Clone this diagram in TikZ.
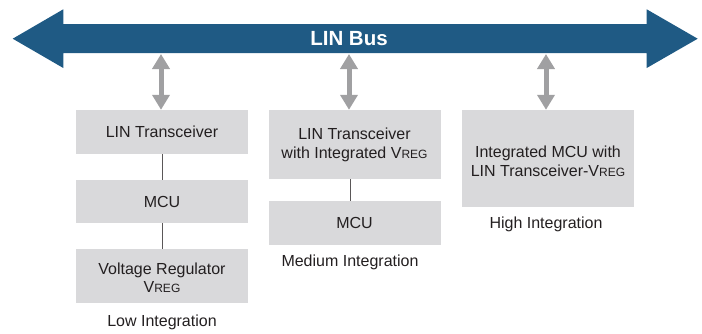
\documentclass[tikz,border=0pt]{standalone}
\usepackage{fontspec}
\setmainfont{Liberation Sans}
\usetikzlibrary{arrows.meta}
\definecolor{busblue}{RGB}{31,90,132}
\definecolor{boxgray}{RGB}{217,217,219}
\definecolor{arrgray}{RGB}{160,160,162}
\definecolor{txt}{RGB}{35,31,32}
\newcommand{\vreg}{V{\fontsize{12}{13}\selectfont REG}}
\tikzset{
  blk/.style={fill=boxgray, draw=none, minimum width=172pt, inner sep=0pt, align=center, text=txt, font=\fontsize{16}{19}\selectfont},
  grouplabel/.style={text=txt, font=\fontsize{16}{18}\selectfont, inner sep=0pt},
  link/.style={draw=txt!75, line width=0.9pt},
  vlink/.style={draw=arrgray, line width=5pt, {Triangle[width=17pt,length=15pt]}-{Triangle[width=17pt,length=15pt]}, shorten <=0pt, shorten >=0pt}
}
\begin{document}
\begin{tikzpicture}[x=1pt,y=1pt]
\useasboundingbox (0,0) rectangle (702,-333);
% bus
\fill[busblue] (12.7,-38.7) -- (63.3,-9.3) -- (63.3,-24) -- (646.7,-24) -- (646.7,-9.3) -- (697.7,-38.7) -- (646.7,-68) -- (646.7,-53) -- (63.3,-53) -- (63.3,-68) -- cycle;
\node[text=white, font=\bfseries\fontsize{20.5}{22}\selectfont, inner sep=0pt] (bus) at (349,-38.5) {LIN Bus};
% low integration
\node[blk, minimum height=44pt] (l1) at (162,-132) {LIN Transceiver};
\node[blk, minimum height=43pt] (l2) at (162,-201.5) {MCU};
\node[blk, minimum height=54pt] (l3) at (162,-276) {};
\node[blk, fill=none, minimum height=0pt] (l3t) at (162,-278) {Voltage Regulator\\[-1pt]\vreg};
\node[grouplabel] (lc) at (162,-322) {Low Integration};
% medium
\node[blk, minimum height=69pt] (m1) at (354.5,-144.5) {LIN Transceiver\\with Integrated \vreg};
\node[blk, minimum height=44pt] (m2) at (354.5,-223) {MCU};
\node[grouplabel] (mc) at (350,-262) {Medium Integration};
% high
\node[blk, minimum height=97pt] (h1) at (548,-158.5) {};
\node[blk, fill=none, minimum height=0pt] (h1t) at (548,-161.5) {Integrated MCU with\\LIN Transceiver-\vreg};
\node[grouplabel] (hc) at (546,-224) {High Integration};
% links
\draw[link] (l1.south) -- (l2.north);
\draw[link] (l2.south) -- (l3.north);
\draw[link] (m1.south -| 350,0) -- (m2.north -| 350,0);
% bus taps
\coordinate (t1) at (161,-54);
\coordinate (t2) at (349,-54);
\coordinate (t3) at (546,-54);
\draw[vlink] (t1) -- (l1.north -| t1);
\draw[vlink] (t2) -- (m1.north -| t2);
\draw[vlink] (t3) -- (h1.north -| t3);
\end{tikzpicture}
\end{document}
